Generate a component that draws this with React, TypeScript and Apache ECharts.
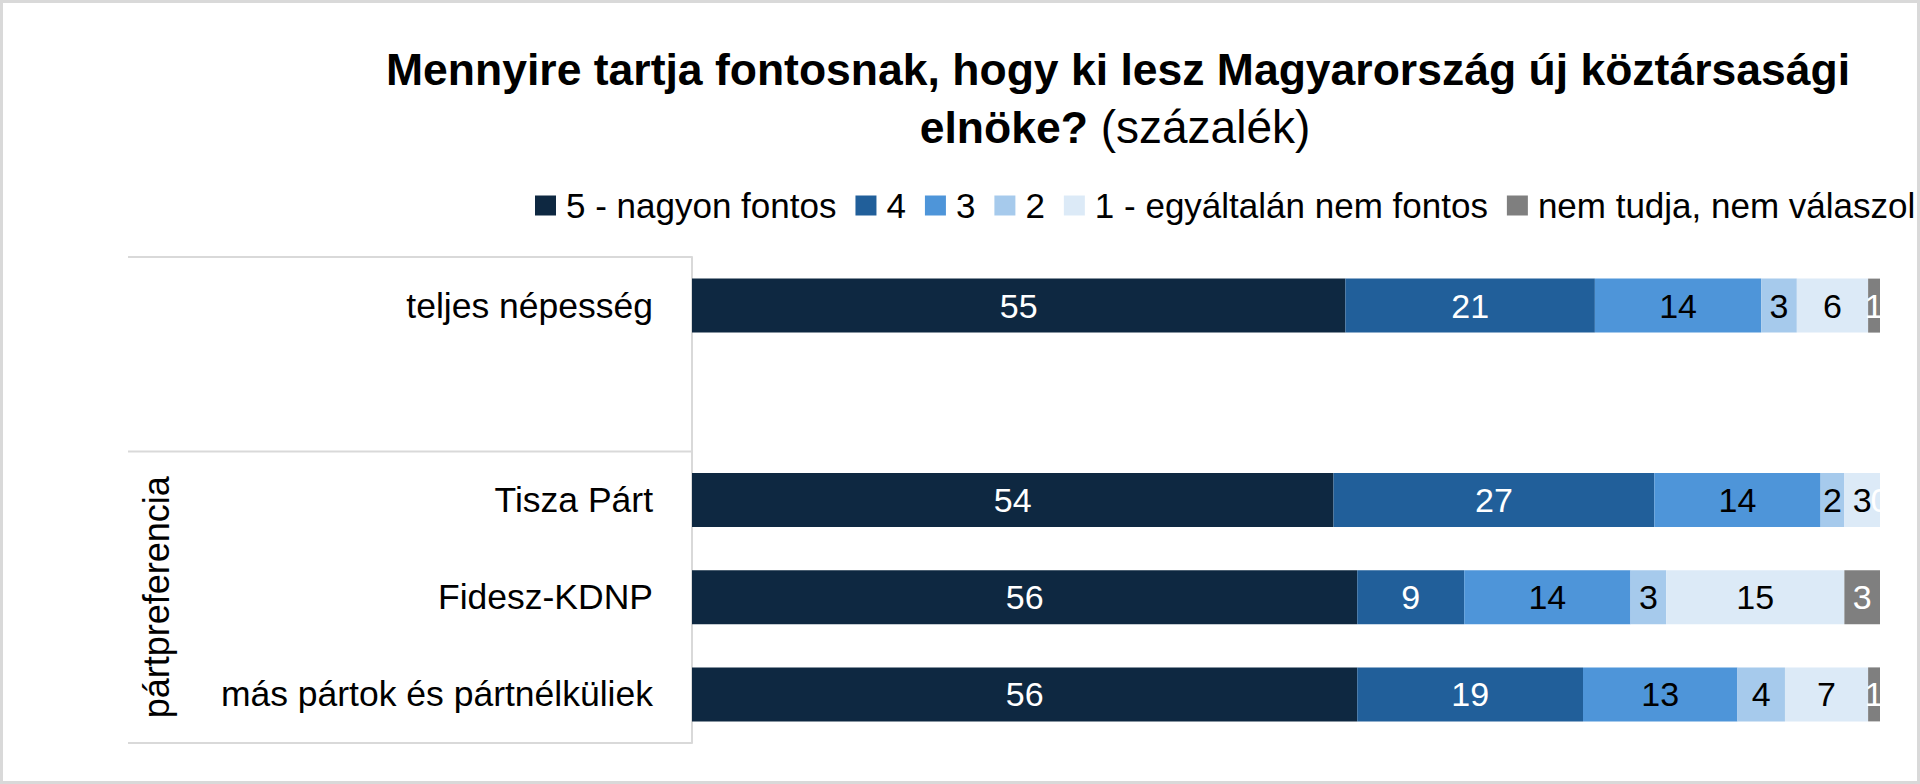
import React, { useEffect, useRef } from "react";
import * as echarts from "echarts";

const categories = ["teljes népesség", "", "Tisza Párt", "Fidesz-KDNP", "más pártok és pártnélküliek"];
const seriesNames = ["5 - nagyon fontos", "4", "3", "2", "1 - egyáltalán nem fontos", "nem tudja, nem válaszol"];
const v5 = [55, null, 54, 56, 56];
const v4 = [21, null, 27, 9, 19];
const v3 = [14, null, 14, 14, 13];
const v2 = [3, null, 2, 3, 4];
const v1 = [6, null, 3, 15, 7];
const vNA = [1, null, 0, 3, 1];
const seriesValues = [v5, v4, v3, v2, v1, vNA];
const colors = ["#0E2841", "#215F9A", "#4E95D9", "#A6CAEC", "#DCEAF7", "#7F7F7F"];
const labelColors = ["#FFFFFF", "#FFFFFF", "#000000", "#000000", "#000000", "#FFFFFF"];
const groupLabel = "pártpreferencia";
const titleLine1 = "Mennyire tartja fontosnak, hogy ki lesz Magyarország új köztársasági";
const titleBold2 = "elnöke?";
const titleNormal2 = " (százalék)";

const W = 1920;
const H = 784;
const GRID_LEFT = 692;
const GRID_RIGHT_X = 1880;
const GRID_TOP = 257;
const GRID_BOTTOM_Y = 743;
const FONT = "'Liberation Sans', Arial, sans-serif";
const LINE_COLOR = "#D9D9D9";

export default function App() {
  const ref = useRef<HTMLDivElement>(null);
  useEffect(() => {
    document.body.style.margin = "0";
    const chart = echarts.init(ref.current!, null, { renderer: "svg" });
    const band = (GRID_BOTTOM_Y - GRID_TOP) / categories.length;
    const tableLeft = 128;
    const hLines = [GRID_TOP, GRID_TOP + 2 * band, GRID_BOTTOM_Y].map((y) => ({
      type: "line",
      shape: { x1: tableLeft, y1: y, x2: GRID_LEFT, y2: y },
      style: { stroke: LINE_COLOR, lineWidth: 2 },
      silent: true,
    }));
    const option: any = {
      animation: false,
      backgroundColor: "#FFFFFF",
      textStyle: { fontFamily: FONT },
      legend: {
        left: 535,
        top: 188,
        padding: 0,
        width: 1600,
        itemWidth: 21,
        itemHeight: 20,
        itemGap: 19,
        icon: "rect",
        textStyle: { fontSize: 35, color: "#000000", fontFamily: FONT, padding: [0, 0, 0, 5] },
        data: seriesNames,
      },
      grid: {
        left: GRID_LEFT,
        right: W - GRID_RIGHT_X,
        top: GRID_TOP,
        bottom: H - GRID_BOTTOM_Y,
        containLabel: false,
      },
      xAxis: {
        type: "value",
        min: 0,
        max: 100,
        show: false,
      },
      yAxis: {
        type: "category",
        inverse: true,
        data: categories,
        axisLine: { show: true, lineStyle: { color: LINE_COLOR, width: 2 } },
        axisTick: { show: false },
        axisLabel: { fontSize: 35.5, color: "#000000", fontFamily: FONT, margin: 39 },
      },
      series: seriesNames.map((name, i) => ({
        name,
        type: "bar",
        stack: "total",
        barWidth: 54,
        itemStyle: { color: colors[i] },
        label: {
          show: true,
          position: "inside",
          fontSize: 34,
          fontFamily: FONT,
          color: labelColors[i],
          formatter: (p: any) => `${p.value}`,
        },
        data: seriesValues[i].map((v) => (v === null ? "-" : v)),
      })),
      graphic: [
        {
          type: "rect",
          shape: { x: 1.5, y: 1.5, width: W - 3, height: H - 3 },
          style: { fill: "none", stroke: LINE_COLOR, lineWidth: 3 },
          silent: true,
        },
        ...hLines,
        {
          type: "text",
          x: 156,
          y: (GRID_TOP + 2 * band + GRID_BOTTOM_Y) / 2,
          rotation: Math.PI / 2,
          style: {
            text: groupLabel,
            fontSize: 36,
            fontFamily: FONT,
            fill: "#000000",
            align: "center",
            verticalAlign: "middle",
          },
        },
        {
          type: "text",
          x: 1118,
          y: 69,
          style: {
            text: titleLine1,
            fontSize: 44.5,
            fontWeight: "bold",
            fontFamily: FONT,
            fill: "#000000",
            align: "center",
            verticalAlign: "middle",
          },
        },
        {
          type: "text",
          x: 1115,
          y: 127,
          style: {
            text: `{b|${titleBold2}}{n|${titleNormal2}}`,
            fill: "#000000",
            align: "center",
            verticalAlign: "middle",
            rich: {
              b: { fontSize: 44.5, fontWeight: "bold", fontFamily: FONT, fill: "#000000" },
              n: { fontSize: 46, fontWeight: "normal", fontFamily: FONT, fill: "#000000" },
            },
          },
        },
      ],
    };
    chart.setOption(option);
    return () => chart.dispose();
  }, []);
  return <div ref={ref} style={{ position: "fixed", left: 0, top: 0, width: W, height: H }} />;
}
